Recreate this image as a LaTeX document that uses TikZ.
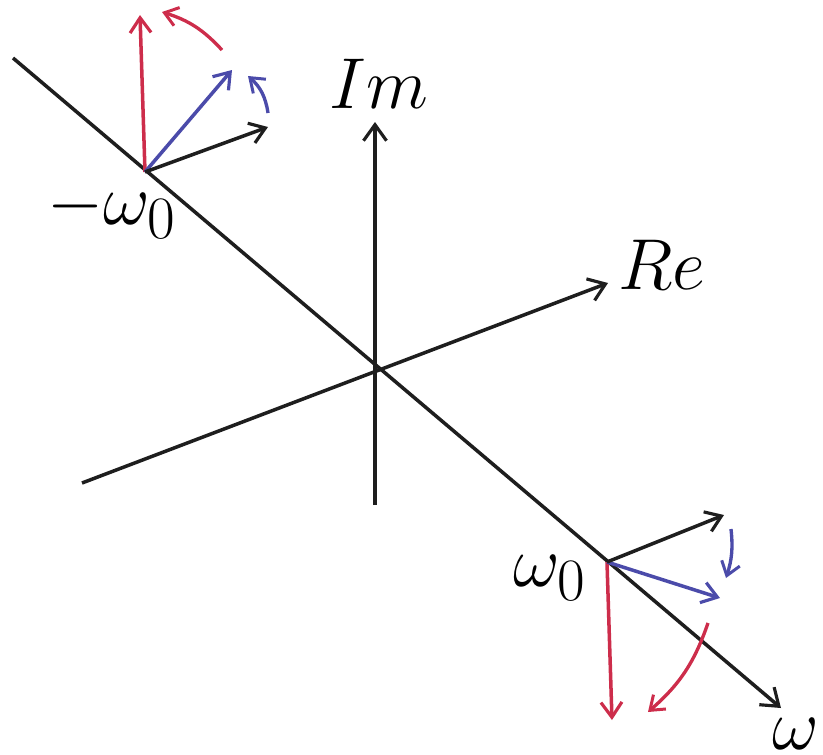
\documentclass[tikz,border=0pt]{standalone}
\usepackage{amsmath}
\usepackage{graphicx}
\usepackage{tikz}
\usetikzlibrary{arrows.meta}
\definecolor{phasorred}{RGB}{205,45,75}
\definecolor{phasorblue}{RGB}{75,75,170}
\definecolor{inkblack}{RGB}{30,30,30}
\newcommand{\biglbl}[1]{\scalebox{1.65}{\Huge #1}}
\tikzset{%
  axisline/.style={inkblack, line width=2pt, -{Straight Barb[length=3.2mm,width=4.6mm,line width=1.8pt]}},
  phasor/.style={line width=2pt, -{Straight Barb[length=3mm,width=4.2mm,line width=1.8pt]}},
  turn/.style={line width=1.9pt, -{Straight Barb[length=2.6mm,width=3.8mm,line width=1.7pt]}}%
}

\begin{document}
\begin{tikzpicture}[
    x=0.02cm, y=-0.02cm,
    lbl/.style={inner sep=0pt}
]
\useasboundingbox (0,0) rectangle (823,755);

% Points on the axes
\coordinate (O) at (375,370);
\coordinate (imlow) at (375,505);
\coordinate (imtip) at (375,122);
\coordinate (relow) at (82,483);
\coordinate (retip) at (608,283);
\coordinate (wstart) at (13,58);
\coordinate (wtip) at (781,708);
\coordinate (negw) at (145,172);
\coordinate (posw) at (607,562);

% Axes
\draw[axisline] (imlow) -- (imtip);
\draw[axisline] (relow) -- (retip);
\draw[axisline] (wstart) -- (wtip);

% Axis labels
\node[lbl] (im) at (379,84) {\biglbl{$Im$}};
\node[lbl] (re) at (662,265) {\biglbl{$Re$}};
\node[lbl] (negwlbl) at (112,210) {\biglbl{$-\omega_0$}};
\node[lbl] (poswlbl) at (550,578) {\biglbl{$\omega_0$}};
\node[lbl, anchor=south east] (wlbl) at (819,750) {\biglbl{$\omega$}};

% Phasors at -omega_0
\coordinate (nred) at (140,15);
\coordinate (nblue) at (232,70);
\coordinate (nblack) at (268,127);
\draw[phasor, phasorred] (negw) -- (nred);
\draw[phasor, phasorblue] (negw) -- (nblue);
\draw[phasor, inkblack] (negw) -- (nblack);
\coordinate (nredA) at (222,50);
\coordinate (nredB) at (162,12);
\coordinate (nblueA) at (268,113);
\coordinate (nblueB) at (248,76);
\draw[turn, phasorred] (nredA) to[bend right=15] (nredB);
\draw[turn, phasorblue] (nblueA) to[bend right=20] (nblueB);

% Phasors at omega_0
\coordinate (pred) at (612,720);
\coordinate (pblue) at (720,598);
\coordinate (pblack) at (724,515);
\draw[phasor, phasorred] (posw) -- (pred);
\draw[phasor, phasorblue] (posw) -- (pblue);
\draw[phasor, inkblack] (posw) -- (pblack);
\coordinate (predA) at (708,623);
\coordinate (predB) at (648,712);
\coordinate (pblueA) at (731,529);
\coordinate (pblueB) at (726,578);
\draw[turn, phasorred] (predA) to[bend left=15] (predB);
\draw[turn, phasorblue] (pblueA) to[bend left=12] (pblueB);

\end{tikzpicture}
\end{document}
